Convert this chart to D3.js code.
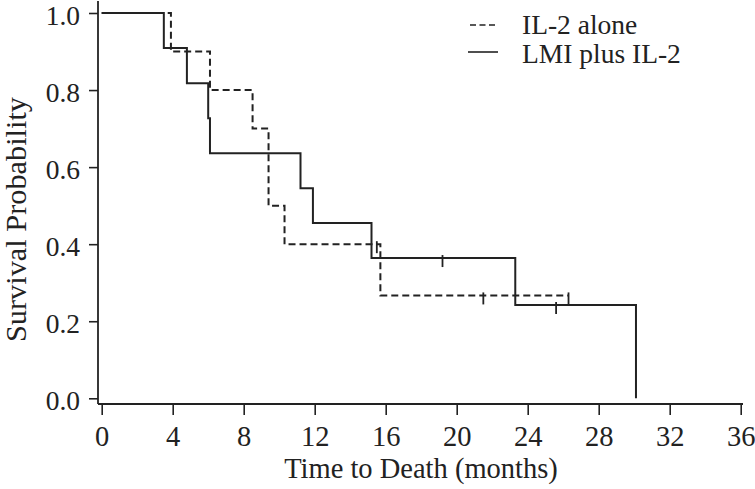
<!DOCTYPE html>
<html>
<head>
<meta charset="utf-8">
<script src="https://cdn.jsdelivr.net/npm/d3@7"></script>
<style>
  html, body { margin: 0; padding: 0; background: #fff; }
  svg { display: block; }
  text { font-family: "Liberation Serif", "Times New Roman", serif; fill: #222; }
</style>
</head>
<body>
<svg id="chart" width="755" height="489"></svg>
<script>
// ---- data ----
const seriesNames = ["IL-2 alone", "LMI plus IL-2"];
const ilTimes  = [0, 3.9, 6.1, 8.5, 9.4, 10.3, 15.7, 26.3];
const ilSurv   = [1.0, 0.9, 0.8, 0.7, 0.5, 0.4, 0.267, 0.267];
const lmiTimes = [0, 3.5, 4.8, 6.0, 6.1, 11.2, 11.9, 15.2, 23.3, 30.1];
const lmiSurv  = [1.0, 0.909, 0.818, 0.727, 0.636, 0.545, 0.455, 0.364, 0.242, 0.0];
const ilCensT  = [15.5, 21.5, 26.3];
const ilCensS  = [0.4, 0.267, 0.267];
const lmiCensT = [19.2, 25.6];
const lmiCensS = [0.364, 0.242];
const xTicks = [0, 4, 8, 12, 16, 20, 24, 28, 32, 36];
const yTicks = [0.0, 0.2, 0.4, 0.6, 0.8, 1.0];
const xTitle = "Time to Death (months)";
const yTitle = "Survival Probability";

const svg = d3.select("#chart");
const ink = "#222";

const x = d3.scaleLinear().domain([0, 36]).range([101.7, 740.7]);
const y = d3.scaleLinear().domain([0, 1]).range([398.3, 13]);

// axes
const axisX = 98, axisY = 404;
const gx = svg.append("g").attr("transform", `translate(0,${axisY})`)
  .call(d3.axisBottom(x).tickValues(xTicks).tickSize(11).tickFormat(d3.format("d")));
const gy = svg.append("g").attr("transform", `translate(${axisX},0)`)
  .call(d3.axisLeft(y).tickValues(yTicks).tickSize(9).tickFormat(d3.format(".1f")));
[gx, gy].forEach(g => {
  g.select(".domain").remove();
  g.selectAll(".tick line").attr("stroke", ink).attr("stroke-width", 1.6);
  g.selectAll(".tick text").attr("fill", ink).attr("font-family", "Liberation Serif");
});
gx.selectAll(".tick text").style("font-size", "28.5px").attr("y", 22).attr("dy", "0.71em");
gy.selectAll(".tick text").style("font-size", "27.5px").attr("x", -18).attr("dy", "0.42em");

svg.append("line").attr("x1", axisX).attr("x2", 743).attr("y1", axisY).attr("y2", axisY)
  .attr("stroke", ink).attr("stroke-width", 1.8);
svg.append("line").attr("x1", axisX).attr("x2", axisX).attr("y1", 1).attr("y2", axisY)
  .attr("stroke", ink).attr("stroke-width", 1.8);

// curves
const line = d3.line().x(d => x(d[0])).y(d => y(d[1])).curve(d3.curveStepAfter);
svg.append("path").datum(ilTimes.map((t, i) => [t, ilSurv[i]]))
  .attr("d", line).attr("fill", "none").attr("stroke", ink)
  .attr("stroke-width", 2).attr("stroke-dasharray", "7,4");
svg.append("path").datum(lmiTimes.map((t, i) => [t, lmiSurv[i]]))
  .attr("d", line).attr("fill", "none").attr("stroke", ink).attr("stroke-width", 2);

// censor marks
const cens = ilCensT.map((t, i) => [t, ilCensS[i]]).concat(lmiCensT.map((t, i) => [t, lmiCensS[i]]));
svg.selectAll("line.cens").data(cens).enter().append("line").attr("class", "cens")
  .attr("x1", d => x(d[0])).attr("x2", d => x(d[0]))
  .attr("y1", d => y(d[1]) - 3).attr("y2", d => y(d[1]) + 9)
  .attr("stroke", ink).attr("stroke-width", 1.8);

// axis titles
svg.append("text").attr("x", 421).attr("y", 478).attr("text-anchor", "middle")
  .style("font-size", "28.5px").text(xTitle);
svg.append("text").attr("transform", "translate(26,219.5) rotate(-90)")
  .attr("text-anchor", "middle").style("font-size", "29.5px")
  .attr("textLength", 245).attr("lengthAdjust", "spacingAndGlyphs").text(yTitle);

// legend
const leg = svg.append("g");
leg.append("line").attr("x1", 470).attr("x2", 495).attr("y1", 25).attr("y2", 25)
  .attr("stroke", ink).attr("stroke-width", 1.6).attr("stroke-dasharray", "6,3.5");
leg.append("line").attr("x1", 468).attr("x2", 498).attr("y1", 52).attr("y2", 52)
  .attr("stroke", ink).attr("stroke-width", 1.6);
leg.append("text").attr("x", 522).attr("y", 34).style("font-size", "27.5px").text(seriesNames[0]);
leg.append("text").attr("x", 522).attr("y", 62.5).style("font-size", "27.5px").text(seriesNames[1]);
</script>
</body>
</html>
